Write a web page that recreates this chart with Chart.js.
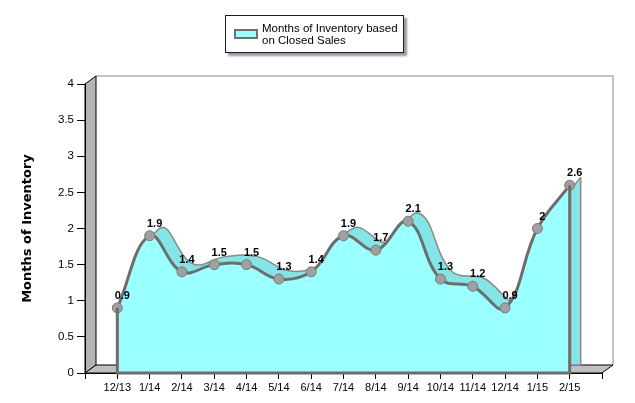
<!DOCTYPE html>
<html lang="en">

<head>
    <meta charset="UTF-8">
    <title>Months of Inventory</title>
    <style>
        body { margin: 0; background: #fff; }
        #wrap { position: relative; width: 635px; height: 403px; }
        #legend {
            position: absolute; left: 225px; top: 15px; width: 177px; height: 36px;
            border: 1px solid #1a1a33; background: #fff;
            box-shadow: 3px 3px 2px #9a9a9a;
            font: 11.5px "Liberation Sans", Arial, sans-serif; color: #000;
        }
        #legend .swatch {
            position: absolute; left: 8px; top: 13px; width: 20px; height: 6px;
            background: #99ffff; border: 2px solid #707070;
        }
        #legend .text { position: absolute; left: 36px; top: 6px; line-height: 12px; }
    </style>
</head>

<body>
    <div id="wrap">
        <canvas id="myChart" width="635" height="403"></canvas>
        <div id="legend">
            <div class="swatch"></div>
            <div class="text">Months of Inventory based<br>on Closed Sales</div>
        </div>
    </div>

    <script src="https://cdn.jsdelivr.net/npm/chart.js"></script>
    <script>
        const months = ['12/13', '1/14', '2/14', '3/14', '4/14', '5/14', '6/14', '7/14',
            '8/14', '9/14', '10/14', '11/14', '12/14', '1/15', '2/15'];
        const inventory = [0.9, 1.9, 1.4, 1.5, 1.5, 1.3, 1.4, 1.9, 1.7, 2.1, 1.3, 1.2, 0.9, 2, 2.6];
        const seriesName = 'Months of Inventory based on Closed Sales';

        // 3d depth offset in pixels, plot area is 517 x 289
        const DX = 11, DY = 8;
        const X_MIN = -1, X_MAX = 15, Y_MAX = 4;
        const xShift = DX / 517 * (X_MAX - X_MIN);
        const yShift = DY / 289 * Y_MAX;

        const points = inventory.map((v, i) => ({ x: i, y: v }));

        // grey walls and floor behind the plot
        const walls = {
            id: 'walls',
            beforeDraw(chart) {
                const c = chart.ctx, a = chart.chartArea;
                const L = a.left, R = a.right, T = a.top, B = a.bottom;
                c.save();
                c.fillStyle = '#fff';
                c.fillRect(L + DX, T - DY, R - L, B - T);
                c.strokeStyle = '#c4c4c4';
                c.lineWidth = 2;
                c.beginPath();
                c.moveTo(L + DX, T - DY);
                c.lineTo(R + DX, T - DY);
                c.lineTo(R + DX, B - DY);
                c.stroke();
                c.lineWidth = 1;
                c.strokeStyle = '#000';
                c.fillStyle = '#b4b4b4';
                c.beginPath();
                c.moveTo(L, T); c.lineTo(L + DX, T - DY); c.lineTo(L + DX, B - DY); c.lineTo(L, B);
                c.closePath(); c.fill(); c.stroke();
                c.fillStyle = '#c0c0c0';
                c.beginPath();
                c.moveTo(L, B); c.lineTo(L + DX, B - DY); c.lineTo(R + DX, B - DY); c.lineTo(R, B);
                c.closePath(); c.fill(); c.stroke();
                c.restore();
            }
        };

        // close the outline of each area (bottom and the two side edges)
        const edges = {
            id: 'edges',
            afterDatasetDraw(chart, args) {
                const ds = chart.data.datasets[args.index];
                const meta = args.meta;
                const c = chart.ctx, xs = meta.xScale, ys = meta.yScale;
                const first = ds.data[0], last = ds.data[ds.data.length - 1];
                c.save();
                c.strokeStyle = ds.borderColor;
                c.lineWidth = ds.borderWidth;
                c.beginPath();
                c.moveTo(xs.getPixelForValue(first.x), ys.getPixelForValue(first.y));
                c.lineTo(xs.getPixelForValue(first.x), ys.getPixelForValue(0));
                c.lineTo(xs.getPixelForValue(last.x), ys.getPixelForValue(0));
                c.lineTo(xs.getPixelForValue(last.x), ys.getPixelForValue(last.y));
                c.stroke();
                c.restore();
            }
        };

        const valueLabels = {
            id: 'valueLabels',
            afterDatasetsDraw(chart) {
                const c = chart.ctx;
                const meta = chart.getDatasetMeta(0);
                c.save();
                c.font = 'bold 11px "Liberation Sans", Arial, sans-serif';
                c.fillStyle = '#000';
                c.textAlign = 'center';
                c.textBaseline = 'middle';
                meta.data.forEach((p, i) => {
                    c.fillText(String(inventory[i]), p.x + 5, p.y - 12);
                });
                c.restore();
            }
        };

        const ctx = document.getElementById('myChart');
        new Chart(ctx, {
            type: 'line',
            data: {
                datasets: [{
                    label: seriesName,
                    data: points,
                    fill: 'origin',
                    backgroundColor: '#99ffff',
                    borderColor: '#6d6d6d',
                    borderWidth: 3,
                    tension: 0.4,
                    pointRadius: 5,
                    pointBackgroundColor: '#a0a0a0',
                    pointBorderColor: '#7a7a7a',
                    pointBorderWidth: 1,
                    clip: false
                }, {
                    // back face of the same series, drawn on the shifted depth axes
                    label: seriesName,
                    data: points,
                    xAxisID: 'xBack',
                    yAxisID: 'yBack',
                    fill: 'origin',
                    backgroundColor: '#82e6e6',
                    borderColor: '#8a8a8a',
                    borderWidth: 1.5,
                    tension: 0.4,
                    pointRadius: 0,
                    clip: false
                }]
            },
            options: {
                responsive: false,
                animation: false,
                events: [],
                layout: { padding: { left: 0, top: 84, right: 33, bottom: 0 } },
                plugins: {
                    legend: { display: false },
                    tooltip: { enabled: false }
                },
                scales: {
                    x: {
                        type: 'linear',
                        min: X_MIN,
                        max: X_MAX,
                        afterFit(scale) { scale.height = 30; },
                        grid: { drawOnChartArea: false, color: '#000', tickLength: 6 },
                        border: { color: '#000' },
                        ticks: {
                            stepSize: 1,
                            autoSkip: false,
                            maxRotation: 0,
                            padding: 2,
                            color: '#000',
                            font: { family: '"Liberation Sans", Arial, sans-serif', size: 11 },
                            callback: (v) => months[v] || ''
                        }
                    },
                    y: {
                        min: 0,
                        max: Y_MAX,
                        afterFit(scale) { scale.width = 85; },
                        grid: { drawOnChartArea: false, color: '#000', tickLength: 8 },
                        border: { color: '#000' },
                        ticks: {
                            stepSize: 0.5,
                            padding: 3,
                            color: '#000',
                            font: { family: '"Liberation Sans", Arial, sans-serif', size: 11.5 },
                            callback: (v) => String(v)
                        },
                        title: {
                            display: true,
                            text: 'Months of Inventory',
                            color: '#000',
                            font: { family: '"DejaVu Sans", Verdana, sans-serif', size: 13, weight: 'bold' },
                            padding: { top: 20, bottom: 0 }
                        }
                    },
                    xBack: {
                        type: 'linear',
                        display: false,
                        min: X_MIN - xShift,
                        max: X_MAX - xShift
                    },
                    yBack: {
                        display: false,
                        min: -yShift,
                        max: Y_MAX - yShift
                    }
                }
            },
            plugins: [walls, edges, valueLabels]
        });
    </script>
</body>

</html>
